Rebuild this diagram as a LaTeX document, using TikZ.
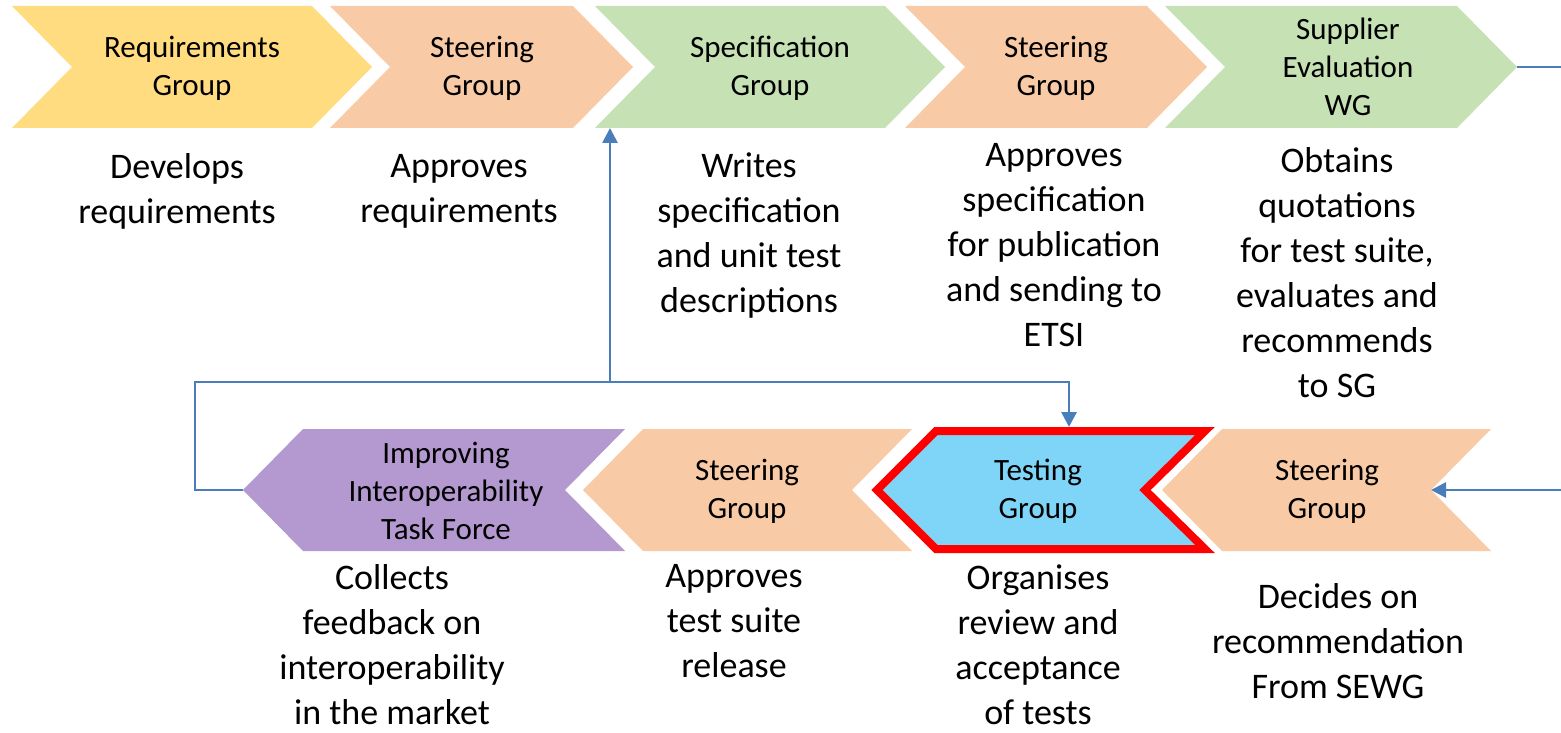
\documentclass[tikz,border=0pt]{standalone}
\usepackage{fontspec}
\setmainfont{Carlito}
\usetikzlibrary{arrows.meta}
\definecolor{cyellow}{HTML}{FFDC7F}
\definecolor{cpeach}{HTML}{F8CBA6}
\definecolor{cgreen}{HTML}{C6E1B4}
\definecolor{cpurple}{HTML}{B498D0}
\definecolor{cblue}{HTML}{7FD5F7}
\definecolor{cline}{HTML}{4A7EBB}
\tikzset{
  lbl/.style={align=center,font=\fontsize{31}{38}\selectfont,inner sep=0pt},
  desc/.style={align=center,font=\fontsize{36}{45}\selectfont,inner sep=0pt},
  conn/.style={draw=cline,line width=2.8pt},
  arr/.style={conn,-{Triangle[length=15pt,width=15pt]}},
}
\begin{document}
\begin{tikzpicture}[x=1pt,y=-1pt]
\useasboundingbox (0,0) rectangle (1561,733);
\clip (0,0) rectangle (1561,733);
% top row (right-pointing chevrons)
\def\T{6}\def\B{128}\def\M{67}
\fill[cyellow] (12,\T) -- (312,\T) -- (372,\M) -- (312,\B) -- (12,\B) -- (72,\M) -- cycle;
\fill[cpeach] (330,\T) -- (573,\T) -- (633,\M) -- (573,\B) -- (330,\B) -- (390,\M) -- cycle;
\fill[cgreen] (595,\T) -- (885,\T) -- (945,\M) -- (885,\B) -- (595,\B) -- (655,\M) -- cycle;
\fill[cpeach] (905,\T) -- (1147,\T) -- (1207,\M) -- (1147,\B) -- (905,\B) -- (965,\M) -- cycle;
\fill[cgreen] (1165,\T) -- (1457,\T) -- (1517,\M) -- (1457,\B) -- (1165,\B) -- (1225,\M) -- cycle;
% bottom row (left-pointing chevrons)
\def\T{429}\def\B{551}\def\M{490}
\fill[cpurple] (303,\T) -- (625,\T) -- (565,\M) -- (625,\B) -- (303,\B) -- (243,\M) -- cycle;
\fill[cpeach] (643,\T) -- (912,\T) -- (852,\M) -- (912,\B) -- (643,\B) -- (583,\M) -- cycle;
\filldraw[fill=cblue,draw=red,line width=8pt] (936,431) -- (1205,431) -- (1145,490) -- (1205,549) -- (936,549) -- (877,490) -- cycle;
\fill[cpeach] (1222,\T) -- (1491,\T) -- (1431,\M) -- (1491,\B) -- (1222,\B) -- (1162,\M) -- cycle;

% coordinates
\coordinate (supptip) at (1517,67);
\coordinate (steerBnotch) at (1431,490);
\coordinate (itftip) at (243,490);
\coordinate (testtop) at (1069,427);
\coordinate (specbot) at (610,128);
\coordinate (junc) at (610,382);

% labels
\node[lbl] (req) at (192,68) {Requirements\\Group};
\node[lbl] (sg1) at (482,68) {Steering\\Group};
\node[lbl] (spec) at (770,68) {Specification\\Group};
\node[lbl] (sg2) at (1056,68) {Steering\\Group};
\node[lbl] (sewg) at (1348,67) {Supplier\\Evaluation\\WG};
\node[lbl] (itf) at (446,491) {Improving\\Interoperability\\Task Force};
\node[lbl] (sg3) at (747,491) {Steering\\Group};
\node[lbl] (test) at (1038,491) {Testing\\Group};
\node[lbl] (sg4) at (1327,491) {Steering\\Group};

% descriptions
\node[desc] (d1) at (177,191) {Develops\\requirements};
\node[desc] (d2) at (459,191) {Approves\\requirements};
\node[desc] (d3) at (749,236) {Writes\\specification\\and unit test\\descriptions};
\node[desc] (d4) at (1054,245) {Approves\\specification\\for publication\\and sending to\\ETSI};
\node[desc] (d5) at (1337,273) {Obtains\\quotations\\for test suite,\\evaluates and\\recommends\\to SG};
\node[desc] (d6) at (392,645) {Collects\\feedback on\\interoperability\\in the market};
\node[desc] (d7) at (734,621) {Approves\\test suite\\release};
\node[desc] (d8) at (1038,645) {Organises\\review and\\acceptance\\of tests};
\node[desc] (d9) at (1338,641) {Decides on\\recommendation\\From SEWG};

% connectors
\draw[arr] (supptip) -- ++(90,0) |- (steerBnotch);
\draw[conn] (itftip) -- (itftip -| 195,0) |- (junc);
\draw[arr] (junc) -| (testtop);
\draw[arr] (junc) -- (specbot);
\end{tikzpicture}
\end{document}
